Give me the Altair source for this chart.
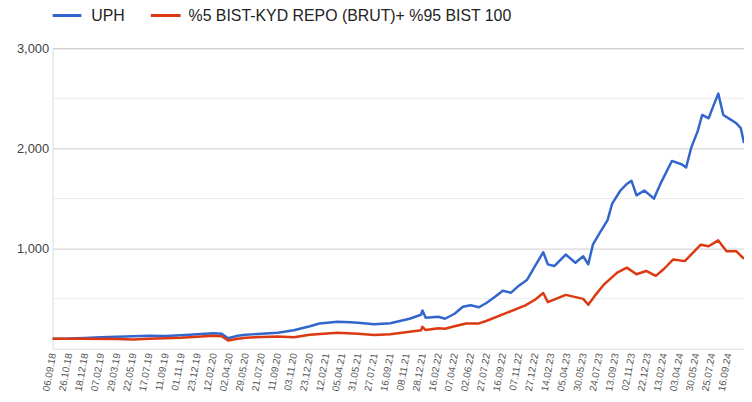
import altair as alt
import pandas as pd

# x labels (every 35 trading days)
date_labels = ["06.09.18", "26.10.18", "18.12.18", "07.02.19", "29.03.19", "22.05.19",
               "17.07.19", "11.09.19", "01.11.19", "23.12.19", "12.02.20", "02.04.20",
               "29.05.20", "21.07.20", "11.09.20", "03.11.20", "23.12.20", "12.02.21",
               "05.04.21", "31.05.21", "27.07.21", "16.09.21", "08.11.21", "28.12.21",
               "16.02.22", "07.04.22", "02.06.22", "27.07.22", "16.09.22", "07.11.22",
               "27.12.22", "14.02.23", "05.04.23", "30.05.23", "24.07.23", "13.09.23",
               "02.11.23", "22.12.23", "13.02.24", "03.04.24", "30.05.24", "25.07.24",
               "16.09.24"]
label_step = 35

series_names = ["UPH", "%5 BIST-KYD REPO (BRUT)+ %95 BIST 100"]
colors = ["#3366cc", "#dc3912"]

# UPH (trading-day index, value)
uph_day = [0, 35, 70, 105, 140, 175, 210, 245, 280, 315, 350, 368, 382, 403, 420, 455, 490,
           525, 560, 581, 620, 648, 665, 700, 735, 777, 802, 805, 812, 840, 854, 875, 893,
           910, 928, 945, 963, 980, 998, 1015, 1033, 1050, 1068, 1078, 1092, 1117, 1138,
           1155, 1166, 1176, 1190, 1208, 1218, 1236, 1250, 1260, 1271, 1288, 1309, 1323,
           1348, 1369, 1379, 1390, 1404, 1414, 1428, 1439, 1449, 1460, 1477, 1488, 1498, 1505]
uph_val = [100, 102, 108, 115, 120, 125, 130, 128, 135, 145, 155, 150, 105, 130, 140, 150, 160,
           185, 225, 253, 270, 265, 260, 245, 255, 300, 340, 383, 310, 320, 300, 350, 420,
           435, 415, 460, 520, 580, 560, 630, 690, 826, 964, 843, 826, 941, 859,
           924, 843, 1039, 1150, 1285, 1449, 1580, 1646, 1678, 1531, 1580, 1499, 1646,
           1875, 1842, 1809, 2006, 2170, 2334, 2301, 2432, 2547, 2334, 2285, 2252, 2203, 2055]

# Benchmark
bm_day = [0, 70, 140, 175, 210, 280, 315, 350, 368, 382, 403, 420, 455, 490, 525, 560, 620,
          665, 700, 735, 777, 802, 805, 812, 840, 854, 875, 900, 928, 945, 984, 1029, 1050,
          1068, 1078, 1117, 1155, 1166, 1180, 1201, 1229, 1250, 1271, 1292, 1313, 1330, 1351,
          1376, 1411, 1428, 1449, 1467, 1488, 1505]
bm_val = [100, 100, 98, 92, 100, 110, 120, 130, 125, 82, 100, 110, 118, 122, 115, 140, 161,
          150, 138, 145, 171, 185, 220, 187, 205, 200, 225, 253, 253, 280, 351, 433, 490,
          557, 466, 538, 498, 440, 528, 646, 761, 810, 744, 777, 728, 794, 892,
          875, 1039, 1023, 1082, 974, 974, 898]

minor_grid = [500, 1500, 2500]
major_ticks = [1000, 2000, 3000]

df = pd.concat([
    pd.DataFrame({"day": uph_day, "value": uph_val, "series": series_names[0], "order": 0}),
    pd.DataFrame({"day": bm_day, "value": bm_val, "series": series_names[1], "order": 1}),
])

label_arr = "[" + ",".join("'" + s + "'" for s in date_labels) + "]"
tick_vals = [i * label_step for i in range(len(date_labels))]
x_max = 43 * label_step

FONT = "Arial, Liberation Sans, sans-serif"

x_enc = alt.X("day:Q",
              scale=alt.Scale(domain=[0, x_max], nice=False, zero=False),
              axis=alt.Axis(values=tick_vals, labelExpr=label_arr + "[round(datum.value/35)]",
                            labelAngle=280, labelAlign="right", labelBaseline="middle",
                            labelPadding=4, labelFontSize=10, labelColor="#555555",
                            labelFont=FONT, grid=False, ticks=False, domain=False,
                            title=None, labelOverlap=False, labelFlush=False))
y_scale = alt.Scale(domain=[0, 3000], nice=False)
y_axis = alt.Axis(values=major_ticks, format=",.0f", grid=True, gridColor="#cccccc",
                  ticks=False, domain=False, title=None, labelFontSize=13,
                  labelColor="#444444", labelFont=FONT, labelPadding=4)

minor = alt.Chart(pd.DataFrame({"v": minor_grid})).mark_rule(
    color="#ebebeb", strokeWidth=1
).encode(y=alt.Y("v:Q", scale=y_scale, axis=y_axis))

lines = alt.Chart(df).mark_line(strokeWidth=2.5, strokeJoin="round").encode(
    x=x_enc,
    y=alt.Y("value:Q", scale=y_scale, axis=y_axis),
    color=alt.Color("series:N",
                    scale=alt.Scale(domain=series_names, range=colors),
                    legend=None),
    order=alt.Order("order:Q"),
    detail="series:N",
)

# manual legend (Google-Charts style, above the plot)
leg_df = pd.DataFrame({"name": series_names, "color": colors})
legend_layers = []
leg_specs = [(0, 29, 39), (99, 129, 137)]
for i, (x0, x1, xt) in enumerate(leg_specs):
    one = alt.Chart(leg_df.iloc[[i]])
    legend_layers.append(
        one.mark_rule(strokeWidth=3).encode(
            x=alt.value(x0), x2=alt.value(x1), y=alt.value(-33),
            color=alt.Color("color:N", scale=None)))
    legend_layers.append(
        one.mark_text(align="left", baseline="middle", fontSize=16, font=FONT,
                      color="#222222").encode(
            x=alt.value(xt), y=alt.value(-32), text="name:N"))

chart = alt.layer(minor, lines, *legend_layers).properties(
    width=697, height=303,
    autosize=alt.AutoSizeParams(type="none"),
    padding={"left": 45, "top": 39, "right": 0, "bottom": 44},
).configure_view(stroke=None).configure(background="white")

chart.save("out.html", embed_options={"renderer": "svg", "actions": False})
